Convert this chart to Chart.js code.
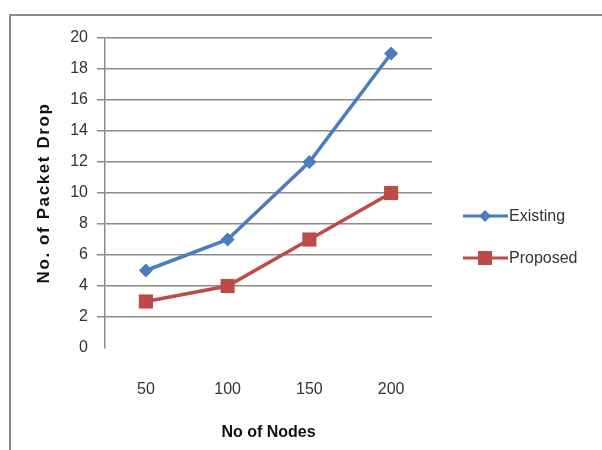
<!DOCTYPE html>
<html>
<head>
<meta charset="utf-8">
<script src="https://cdn.jsdelivr.net/npm/chart.js@4/dist/chart.umd.min.js"></script>
<style>
html,body{margin:0;padding:0;background:#fff;}
#wrap{position:relative;width:602px;height:450px;}
</style>
</head>
<body>
<div id="wrap"><canvas id="c" width="602" height="450"></canvas></div>
<script>
const categories = ['50', '100', '150', '200'];
const existing = [5, 7, 12, 19];
const proposed = [3, 4, 7, 10];
const seriesNames = ['Existing', 'Proposed'];
const yTicks = [0, 2, 4, 6, 8, 10, 12, 14, 16, 18, 20];
const xTitle = 'No of Nodes';
const yTitle = 'No. of Packet Drop';

const BLUE = '#4a7ebb';
const RED = '#be4b48';
const FONT = "'Liberation Sans', Arial, sans-serif";

const framePlugin = {
  id: 'frame',
  beforeDraw(chart) {
    const ctx = chart.ctx;
    ctx.save();
    ctx.fillStyle = '#fff';
    ctx.fillRect(0, 0, chart.width, chart.height);
    ctx.strokeStyle = '#8c8c8c';
    ctx.lineWidth = 2;
    ctx.beginPath();
    ctx.moveTo(10, chart.height);
    ctx.lineTo(10, 15);
    ctx.lineTo(chart.width, 15);
    ctx.stroke();
    ctx.restore();
  }
};

const spacedTitlePlugin = {
  id: 'spacedTitle',
  afterLayout(chart) {
    const s = chart.scales.y;
    if (!s || s._spacedWrapped) return;
    const orig = s.drawTitle;
    s.drawTitle = function () {
      const ctx = this.ctx;
      ctx.save();
      ctx.letterSpacing = '1.6px';
      orig.apply(this, arguments);
      ctx.restore();
    };
    s._spacedWrapped = true;
  }
};

const legendPlugin = {
  id: 'customLegend',
  afterDraw(chart) {
    const ctx = chart.ctx;
    const rows = [216, 258];
    ctx.save();
    chart.data.datasets.forEach((ds, i) => {
      const y = rows[i];
      ctx.strokeStyle = ds.borderColor;
      ctx.lineWidth = 3;
      ctx.beginPath();
      ctx.moveTo(463, y);
      ctx.lineTo(508, y);
      ctx.stroke();
      ctx.fillStyle = ds.pointBackgroundColor;
      if (ds.pointStyle === 'rectRot') {
        ctx.beginPath();
        ctx.moveTo(485 - 6, y);
        ctx.lineTo(485, y - 6);
        ctx.lineTo(485 + 6, y);
        ctx.lineTo(485, y + 6);
        ctx.closePath();
        ctx.fill();
      } else {
        ctx.fillRect(485 - 7, y - 7, 14, 14);
      }
      ctx.fillStyle = '#333';
      ctx.font = '16px ' + FONT;
      ctx.textBaseline = 'middle';
      ctx.textAlign = 'left';
      ctx.fillText(ds.label, 509, y + 1);
    });
    ctx.restore();
  }
};

new Chart(document.getElementById('c'), {
  type: 'line',
  data: {
    labels: categories,
    datasets: [
      {
        label: seriesNames[0],
        data: existing,
        borderColor: BLUE,
        backgroundColor: BLUE,
        pointBackgroundColor: BLUE,
        pointBorderColor: BLUE,
        borderWidth: 3.5,
        pointStyle: 'rectRot',
        pointRadius: 7,
        pointBorderWidth: 0,
        tension: 0
      },
      {
        label: seriesNames[1],
        data: proposed,
        borderColor: RED,
        backgroundColor: RED,
        pointBackgroundColor: RED,
        pointBorderColor: RED,
        borderWidth: 3.5,
        pointStyle: 'rect',
        pointRadius: 10,
        pointBorderWidth: 0,
        tension: 0
      }
    ]
  },
  options: {
    responsive: false,
    animation: false,
    devicePixelRatio: 1,
    layout: { padding: { left: 0, top: 38, right: 170, bottom: 0 } },
    plugins: {
      legend: { display: false },
      tooltip: { enabled: false },
      title: { display: false }
    },
    scales: {
      x: {
        type: 'category',
        offset: true,
        grid: { display: false, drawTicks: false },
        border: { display: false },
        ticks: {
          color: '#333',
          font: { family: FONT, size: 16 },
          padding: 32,
          maxRotation: 0
        },
        title: {
          display: true,
          text: xTitle,
          color: '#111',
          font: { family: FONT, size: 16, weight: 'bold' },
          padding: { top: 0, bottom: 8 }
        },
        afterFit(scale) { scale.height = 102; }
      },
      y: {
        min: 0,
        max: 20,
        afterBuildTicks(scale) { scale.ticks = yTicks.map(v => ({ value: v })); },
        grid: {
          color: ctx => (ctx.tick && ctx.tick.value === 0) ? 'rgba(0,0,0,0)' : '#8c8c8c',
          lineWidth: 1.5,
          tickLength: 8,
          drawTicks: true
        },
        border: { display: true, color: '#8c8c8c', width: 1.5 },
        ticks: {
          color: '#333',
          font: { family: FONT, size: 16 },
          padding: 9
        },
        title: {
          display: true,
          text: yTitle,
          color: '#111',
          font: { family: FONT, size: 17, weight: 'bold' },
          padding: { top: 34, bottom: 0 }
        },
        afterFit(scale) { scale.width = 105; }
      }
    }
  },
  plugins: [framePlugin, spacedTitlePlugin, legendPlugin]
});
</script>
</body>
</html>
